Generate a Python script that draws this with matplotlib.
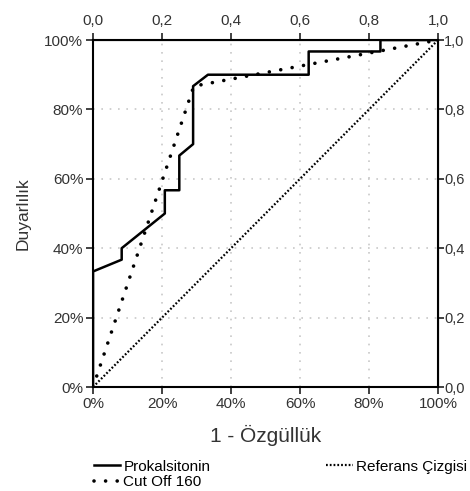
import matplotlib.pyplot as plt
from matplotlib.ticker import FuncFormatter

plt.rcParams['font.family'] = ['Liberation Sans', 'DejaVu Sans']

# ROC data
prok_x = [0, 0, 0.083, 0.083, 0.208, 0.208, 0.25, 0.25, 0.29, 0.29, 0.333, 0.625, 0.625, 0.833, 0.833, 1.0]
prok_y = [0, 0.333, 0.367, 0.4, 0.5, 0.567, 0.567, 0.667, 0.7, 0.867, 0.9, 0.9, 0.967, 0.967, 1.0, 1.0]
cut_x = [0, 0.292, 1.0]
cut_y = [0, 0.867, 1.0]
ref_x = [0, 1]
ref_y = [0, 1]
ticks = [0, 0.2, 0.4, 0.6, 0.8, 1.0]

fig = plt.figure(figsize=(4.7, 4.91), dpi=100)
ax = fig.add_axes([0.198, 0.2118, 0.734, 0.7067])

for t in ticks[1:-1]:
    ax.axvline(t, color='#c8c8c8', lw=1.2, ls=(0, (1, 4)), zorder=0)
    ax.axhline(t, color='#c8c8c8', lw=1.2, ls=(0, (1, 4)), zorder=0)

l1, = ax.plot(prok_x, prok_y, color='black', lw=1.8, label='Prokalsitonin')
l2, = ax.plot(cut_x, cut_y, color='black', lw=2.6, ls=(0, (0.01, 3.2)),
              dash_capstyle='round', label='Cut Off 160')
l3, = ax.plot(ref_x, ref_y, color='black', lw=1.6, ls=(0, (0.8, 0.9)),
              label='Referans Çizgisi')

ax.set_xlim(0, 1)
ax.set_ylim(0, 1)
pct = FuncFormatter(lambda v, p: f'{v * 100:.0f}%')
com = FuncFormatter(lambda v, p: f'{v:.1f}'.replace('.', ','))
tick_kw = dict(direction='out', length=5, width=1.3, labelsize=11, colors='#333333', pad=2)
ax.set_xticks(ticks)
ax.set_yticks(ticks)
ax.xaxis.set_major_formatter(pct)
ax.yaxis.set_major_formatter(pct)
ax.tick_params(**tick_kw)
for s in ax.spines.values():
    s.set_linewidth(1.5)

top = ax.secondary_xaxis('top')
top.set_xticks(ticks)
top.xaxis.set_major_formatter(com)
top.tick_params(direction='out', length=5, width=1.3, labelsize=11, colors='#333333', pad=3.5)
right = ax.secondary_yaxis('right')
right.set_yticks(ticks)
right.yaxis.set_major_formatter(com)
right.tick_params(direction='out', length=4, width=1.3, labelsize=10.5, colors='#333333', pad=0.5)

ax.set_xlabel('1 - Özgüllük', fontsize=15, color='#333333', labelpad=10)
ax.set_ylabel('Duyarlılık', fontsize=12.5, color='#333333', labelpad=10)

fig.legend(handles=[l1, l2, l3], ncol=2, loc='upper left', bbox_to_anchor=(0.199, 0.064),
           frameon=False, fontsize=11, handlelength=1.75, handletextpad=0.2,
           columnspacing=7.6, labelspacing=0.12, borderpad=0, borderaxespad=0)

fig.savefig('out.png', dpi=100)
